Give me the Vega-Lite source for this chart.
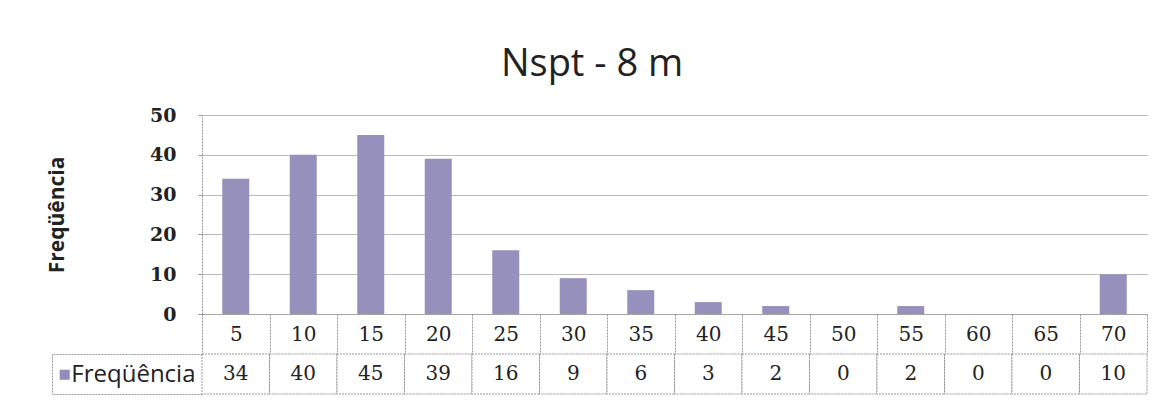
{
  "$schema": "https://vega.github.io/schema/vega-lite/v6.json",
  "padding": {"left": 46, "top": 46, "right": 10, "bottom": 5},
  "bounds": "flush",
  "spacing": 40,
  "title": {"text": "Nspt - 8 m", "font": "Open Sans", "fontSize": 38, "fontWeight": "normal", "color": "#222222", "anchor": "middle", "offset": 22, "dx": -5},
  "config": {"view": {"stroke": null}},
  "data": {"values": [
    {"Nspt": 5, "Freqüência": 34},
    {"Nspt": 10, "Freqüência": 40},
    {"Nspt": 15, "Freqüência": 45},
    {"Nspt": 20, "Freqüência": 39},
    {"Nspt": 25, "Freqüência": 16},
    {"Nspt": 30, "Freqüência": 9},
    {"Nspt": 35, "Freqüência": 6},
    {"Nspt": 40, "Freqüência": 3},
    {"Nspt": 45, "Freqüência": 2},
    {"Nspt": 50, "Freqüência": 0},
    {"Nspt": 55, "Freqüência": 2},
    {"Nspt": 60, "Freqüência": 0},
    {"Nspt": 65, "Freqüência": 0},
    {"Nspt": 70, "Freqüência": 10}
  ]},
  "vconcat": [
    {
      "width": 945,
      "height": 199,
      "mark": {"type": "bar", "width": {"band": 0.4}, "color": "#9690bd"},
      "encoding": {
        "x": {
          "field": "Nspt", "type": "ordinal",
          "scale": {"type": "band", "paddingInner": 0, "paddingOuter": 0},
          "axis": {
            "title": null, "labelAngle": 0, "grid": false,
            "domain": true, "domainColor": "#999999", "domainDash": [2, 1],
            "ticks": true, "tickBand": "extent", "tickSize": 40, "tickColor": "#999999", "tickDash": [2, 1],
            "labelFont": "DejaVu Serif", "labelFontSize": 20, "labelColor": "#222222",
            "labelBaseline": "middle", "labelPadding": -20
          }
        },
        "y": {
          "field": "Freqüência", "type": "quantitative",
          "scale": {"domain": [0, 50], "nice": false},
          "axis": {
            "values": [0, 10, 20, 30, 40, 50],
            "title": "Freqüência", "titleFont": "Open Sans", "titleFontSize": 21, "titleFontWeight": "bold", "titleColor": "#222222", "titlePadding": 82,
            "grid": true, "gridColor": "#777777", "gridDash": [1, 1],
            "domain": true, "domainColor": "#999999", "domainDash": [2, 1],
            "ticks": true, "tickSize": 4, "tickColor": "#999999",
            "labelFont": "DejaVu Serif", "labelFontSize": 19, "labelFontWeight": "bold", "labelColor": "#222222", "labelPadding": 22
          }
        }
      }
    },
    {
      "width": 945,
      "height": 40,
      "transform": [{"fold": ["Freqüência"], "as": ["serie", "freq"]}],
      "layer": [
        {
          "mark": {"type": "rect", "fill": "white", "stroke": "#999999", "strokeDash": [2, 1], "strokeWidth": 1},
          "encoding": {
            "x": {"field": "Nspt", "type": "ordinal", "scale": {"type": "band", "paddingInner": 0, "paddingOuter": 0}, "axis": null},
            "y": {
              "field": "serie", "type": "nominal",
              "scale": {"type": "band", "paddingInner": 0, "paddingOuter": 0},
              "axis": {
                "title": null, "domain": false, "grid": false,
                "ticks": true, "tickBand": "extent", "tickSize": 150, "tickColor": "#999999", "tickDash": [2, 1],
                "labelFont": "Open Sans", "labelFontSize": 24, "labelColor": "#222222", "labelAlign": "right", "labelBaseline": "middle", "labelPadding": -143
              }
            }
          }
        },
        {
          "mark": {"type": "text", "font": "DejaVu Serif", "fontSize": 20, "color": "#222222"},
          "encoding": {
            "x": {"field": "Nspt", "type": "ordinal", "scale": {"type": "band", "paddingInner": 0, "paddingOuter": 0}, "axis": null},
            "y": {
              "field": "serie", "type": "nominal",
              "scale": {"type": "band", "paddingInner": 0, "paddingOuter": 0},
              "axis": {
                "orient": "left", "offset": 150, "title": null, "grid": false,
                "domain": true, "domainColor": "#999999", "domainDash": [2, 1],
                "ticks": false,
                "labelExpr": "'■'", "labelFont": "DejaVu Sans", "labelFontSize": 13, "labelColor": "#938cbd", "labelAlign": "left", "labelBaseline": "middle", "labelPadding": -6
              }
            },
            "text": {"field": "freq", "type": "quantitative"}
          }
        }
      ],
      "resolve": {"scale": {"y": "independent"}, "axis": {"y": "independent"}}
    }
  ]
}
